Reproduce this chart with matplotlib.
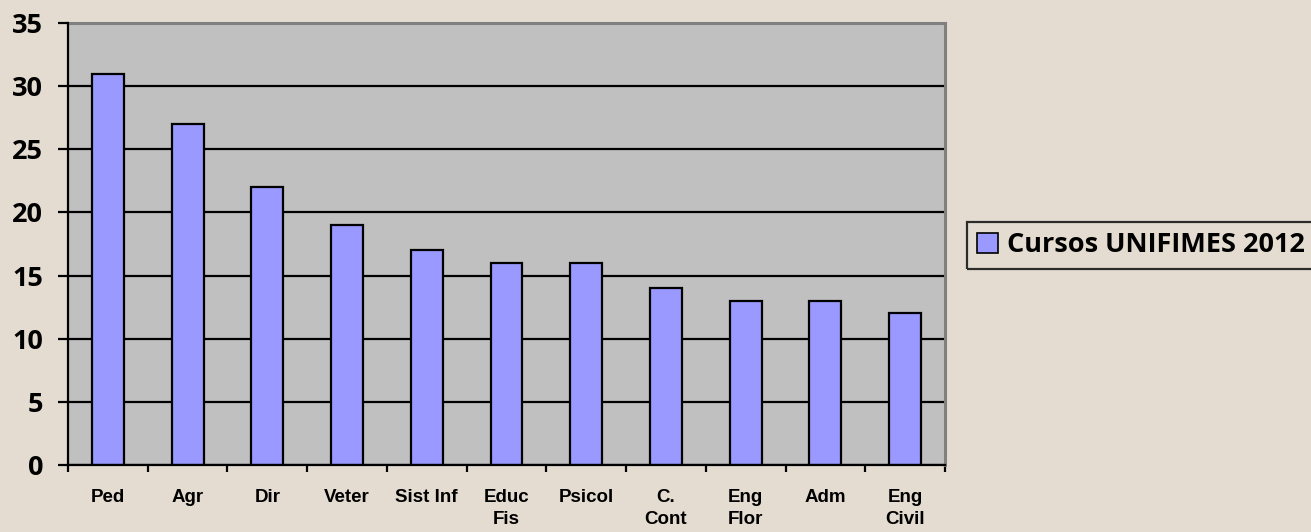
import matplotlib
matplotlib.use("Agg")
from matplotlib import pyplot as plt
from matplotlib.patches import Patch

# --- data ---
cursos = ["Ped", "Agr", "Dir", "Veter", "Sist Inf", "Educ\nFis", "Psicol",
          "C.\nCont", "Eng\nFlor", "Adm", "Eng\nCivil"]
valores = [31, 27, 22, 19, 17, 16, 16, 14, 13, 13, 12]
yticks = [0, 5, 10, 15, 20, 25, 30, 35]
serie = "Cursos UNIFIMES 2012"

bg = "#E4DCD0"
barColor = "#9999FF"

fig = plt.figure(figsize=(13.11, 5.32), dpi=100, facecolor=bg)
ax = fig.add_axes([0.0519, 0.1259, 0.6689, 0.8309])
ax.set_facecolor("#C0C0C0")

x = list(range(len(cursos)))
ax.set_axisbelow(True)
ax.yaxis.grid(True, color="black", linewidth=1.6)
ax.bar(x, valores, width=0.4, color=barColor, edgecolor="black", linewidth=1.6, zorder=3)

ax.set_xlim(-0.5, len(cursos) - 0.5)
ax.set_ylim(0, 35)
ax.set_yticks(yticks)
ax.set_yticklabels([str(v) for v in yticks], fontsize=19.5, fontweight="bold", family="Open Sans")

# ticks between categories, labels centred
ax.set_xticks([i - 0.5 for i in range(len(cursos) + 1)])
ax.set_xticklabels([])
ax.set_xticks(x, minor=True)
ax.set_xticklabels(cursos, minor=True, fontsize=13.5, fontweight="bold",
                   family="Liberation Sans", va="top", linespacing=1.45)
ax.tick_params(axis="x", which="major", direction="out", length=5, width=1.6, color="black")
ax.tick_params(axis="x", which="minor", length=0, pad=17)
ax.tick_params(axis="y", direction="out", length=7, width=1.6, color="black", pad=11)

ax.spines["left"].set_linewidth(1.6)
ax.spines["bottom"].set_linewidth(1.6)
ax.spines["top"].set_color("#808080")
ax.spines["right"].set_color("#808080")
ax.spines["top"].set_linewidth(2.2)
ax.spines["right"].set_linewidth(2.2)
ax.spines["left"].set_zorder(5)
ax.spines["bottom"].set_zorder(5)

handle = Patch(facecolor=barColor, edgecolor="black", linewidth=1.2)
leg = fig.legend([handle], [serie], loc="center left", bbox_to_anchor=(0.7376, 0.539),
                 frameon=True, fancybox=False, handlelength=0.75, handleheight=0.75,
                 handletextpad=0.33, borderpad=0.38, borderaxespad=0,
                 prop={"family": "Open Sans", "weight": "bold", "size": 19.5})
leg.get_frame().set_edgecolor("black")
leg.get_frame().set_linewidth(1.6)
leg.get_frame().set_facecolor("none")

fig.savefig("out.png", dpi=100, facecolor=bg)
